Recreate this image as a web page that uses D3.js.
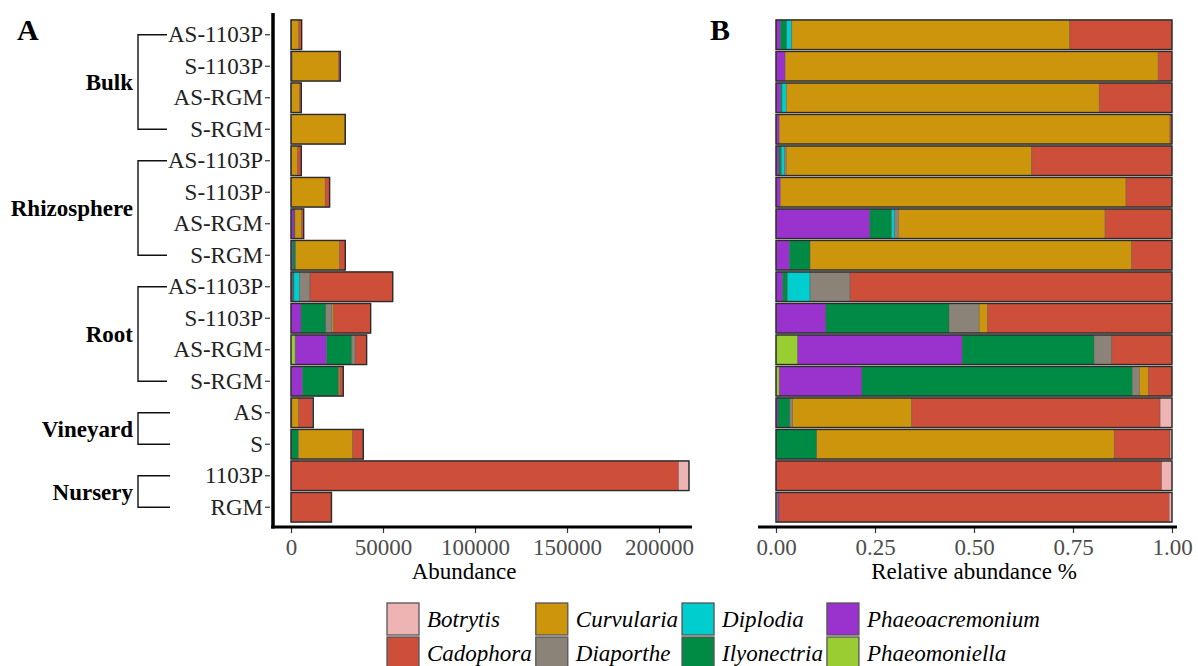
<!DOCTYPE html>
<meta charset="utf-8">
<style>
body { margin: 0; background: #fff; }
text { font-family: "Liberation Serif", "Times New Roman", serif; }
</style>
<body></body>
<script src="https://cdn.jsdelivr.net/npm/d3@7"></script>
<script>

// samples, top to bottom
var samples = ["AS-1103P", "S-1103P", "AS-RGM", "S-RGM",
               "AS-1103P", "S-1103P", "AS-RGM", "S-RGM",
               "AS-1103P", "S-1103P", "AS-RGM", "S-RGM",
               "AS", "S",
               "1103P", "RGM"];
var sampleGroup = ["Bulk", "Bulk", "Bulk", "Bulk",
                   "Rhizosphere", "Rhizosphere", "Rhizosphere", "Rhizosphere",
                   "Root", "Root", "Root", "Root",
                   "Vineyard", "Vineyard",
                   "Nursery", "Nursery"];

var genera = ["Botrytis", "Cadophora", "Curvularia", "Diaporthe",
              "Diplodia", "Ilyonectria", "Phaeoacremonium", "Phaeomoniella"];
var colors = ["#EEB4B4", "#CD4F39", "#CD950C", "#8B8378",
              "#00CDCD", "#008B45", "#9A32CD", "#9ACD32"];

// abundance per genus, one value per sample (same order as samples)
var botrytis        = [0, 0, 0, 0, 0, 0, 0, 0, 0, 0, 0, 0, 363, 197, 5624, 154];
var cadophora       = [1496, 938, 1030, 148, 1982, 2436, 1166, 3009, 44959, 20178, 6247, 1704, 7587, 5541, 210244, 21670];
var curvularia      = [4072, 25246, 4424, 29117, 3472, 18333, 3602, 23954, 0, 909, 0, 625, 3642, 29514, 0, 0];
var diaporthe       = [0, 0, 0, 0, 22, 0, 62, 0, 5585, 3291, 1850, 511, 85, 0, 0, 0];
var diplodia        = [75, 0, 62, 0, 45, 0, 55, 0, 3152, 0, 0, 0, 0, 0, 0, 0];
var ilyonectria     = [93, 0, 22, 0, 36, 0, 380, 1534, 664, 13466, 13686, 19397, 363, 4048, 0, 0];
var phaeoacremonium = [64, 616, 62, 236, 42, 231, 1635, 1003, 940, 5456, 17057, 5936, 61, 0, 433, 88];
var phaeomoniella   = [0, 0, 0, 0, 0, 0, 0, 0, 0, 0, 2261, 227, 0, 0, 0, 88];

var xTicksA = [0, 50000, 100000, 150000, 200000];
var xTicksB = [0, 0.25, 0.5, 0.75, 1];

var series = [botrytis, cadophora, curvularia, diaporthe, diplodia, ilyonectria, phaeoacremonium, phaeomoniella];

var rows = samples.map(function(s, i) {
  var r = {idx: i};
  genera.forEach(function(g, k) { r[g] = series[k][i]; });
  return r;
});

var color = d3.scaleOrdinal().domain(genera).range(colors);
// stacked from the left in reverse alphabetical order
var stackKeys = genera.slice().reverse();

var absStack = d3.stack().keys(stackKeys)(rows);
var relStack = d3.stack().keys(stackKeys).offset(d3.stackOffsetExpand)(rows);
var totals = rows.map(function(r) { return d3.sum(genera, function(g) { return r[g]; }); });

var W = 1198, H = 666, fs = 23;
var svg = d3.select("body").append("svg")
    .attr("width", W)
    .attr("height", H);

var y = d3.scaleBand()
    .domain(d3.range(samples.length))
    .range([19, 523])
    .paddingInner(0.06)
    .paddingOuter(0.03);

var xA = d3.scaleLinear().domain([0, 200000]).range([291, 659]);
var xB = d3.scaleLinear().domain([0, 1]).range([776, 1172]);

function drawBars(stack, x, cls) {
  var g = svg.append("g").attr("class", cls);
  g.selectAll("g.layer")
      .data(stack)
    .enter().append("g")
      .attr("class", "layer")
      .attr("fill", function(d) { return color(d.key); })
    .selectAll("rect")
      .data(function(d) { return d; })
    .enter().append("rect")
      .attr("x", function(d) { return x(d[0]); })
      .attr("width", function(d) { return Math.max(0, x(d[1]) - x(d[0])); })
      .attr("y", function(d) { return y(d.data.idx); })
      .attr("height", y.bandwidth())
      .attr("stroke", "#555")
      .attr("stroke-width", 0.4);
  return g;
}

// panel A
var gA = drawBars(absStack, xA, "panelA");
gA.selectAll("rect.outline")
    .data(rows)
  .enter().append("rect")
    .attr("class", "outline")
    .attr("x", xA(0))
    .attr("width", function(d, i) { return xA(totals[i]) - xA(0); })
    .attr("y", function(d) { return y(d.idx); })
    .attr("height", y.bandwidth())
    .attr("fill", "none")
    .attr("stroke", "#2b2b2b")
    .attr("stroke-width", 1.4);

// panel B
var gB = drawBars(relStack, xB, "panelB");
gB.selectAll("rect.outline")
    .data(rows)
  .enter().append("rect")
    .attr("class", "outline")
    .attr("x", xB(0))
    .attr("width", xB(1) - xB(0))
    .attr("y", function(d) { return y(d.idx); })
    .attr("height", y.bandwidth())
    .attr("fill", "none")
    .attr("stroke", "#2b2b2b")
    .attr("stroke-width", 1.4);

// axes
var yAxis = svg.append("g")
    .attr("transform", "translate(270,0)")
    .call(d3.axisLeft(y)
      .tickFormat(function(i) { return samples[i]; })
      .tickSize(5)
      .tickPadding(2));
yAxis.select(".domain").remove();
yAxis.selectAll("line").attr("stroke", "#333").attr("stroke-width", 1.2);
yAxis.selectAll("text")
    .attr("font-family", "Liberation Serif")
    .attr("font-size", fs)
    .attr("fill", "#222");

function bottomAxis(x, ticks, fmt) {
  var g = svg.append("g")
      .attr("transform", "translate(0,528)")
      .call(d3.axisBottom(x)
        .tickValues(ticks)
        .tickFormat(fmt)
        .tickSize(5)
        .tickSizeOuter(0)
        .tickPadding(6));
  g.select(".domain").remove();
  g.selectAll("line").attr("stroke", "#333").attr("stroke-width", 1.2);
  g.selectAll("text")
      .attr("font-family", "Liberation Serif")
      .attr("font-size", fs)
      .attr("fill", "#4d4d4d");
  return g;
}
bottomAxis(xA, xTicksA, d3.format("d"));
bottomAxis(xB, xTicksB, d3.format(".2f"));

// thick axis lines
svg.append("line")
    .attr("x1", 273).attr("x2", 273).attr("y1", 13).attr("y2", 528.5)
    .attr("stroke", "#000").attr("stroke-width", 3.5);
svg.append("line")
    .attr("x1", 271).attr("x2", 692).attr("y1", 527).attr("y2", 527)
    .attr("stroke", "#000").attr("stroke-width", 3);
svg.append("line")
    .attr("x1", 758).attr("x2", 1177).attr("y1", 527).attr("y2", 527)
    .attr("stroke", "#000").attr("stroke-width", 3);

// axis titles
svg.append("text")
    .attr("x", 464).attr("y", 579)
    .attr("text-anchor", "middle")
    .attr("font-size", fs)
    .text("Abundance");
svg.append("text")
    .attr("x", xB(0.5)).attr("y", 579)
    .attr("text-anchor", "middle")
    .attr("font-size", fs)
    .text("Relative abundance %");

// panel letters
svg.append("text")
    .attr("x", 17).attr("y", 40)
    .attr("font-size", 30).attr("font-weight", "bold")
    .text("A");
svg.append("text")
    .attr("x", 710).attr("y", 40)
    .attr("font-size", 30).attr("font-weight", "bold")
    .text("B");

// group brackets
var groupNames = Array.from(new Set(sampleGroup));
groupNames.forEach(function(name) {
  var idx = d3.range(samples.length).filter(function(i) { return sampleGroup[i] === name; });
  var y0 = y(idx[0]) + y.bandwidth() / 2;
  var y1 = y(idx[idx.length - 1]) + y.bandwidth() / 2;
  var bx = 138, hx = idx.length > 2 ? 167 : 170;
  var path = d3.path();
  path.moveTo(hx, y0);
  path.lineTo(bx, y0);
  path.lineTo(bx, y1);
  path.lineTo(hx, y1);
  svg.append("path")
      .attr("d", path.toString())
      .attr("fill", "none")
      .attr("stroke", "#111")
      .attr("stroke-width", 1.4);
  svg.append("text")
      .attr("x", 133)
      .attr("y", (y0 + y1) / 2)
      .attr("dy", "0.35em")
      .attr("text-anchor", "end")
      .attr("font-size", fs)
      .attr("font-weight", "bold")
      .text(name);
});

// legend, two rows, filled column by column
var legend = svg.append("g");
var keySize = 32, rowStep = 34, legendX = 387, legendY = 603;
var colX = legendX;
for (var c = 0; c < genera.length / 2; c++) {
  var maxW = 0;
  for (var r = 0; r < 2; r++) {
    var g = genera[c * 2 + r];
    legend.append("rect")
        .attr("x", colX).attr("y", legendY + r * rowStep)
        .attr("width", keySize).attr("height", keySize)
        .attr("fill", color(g))
        .attr("stroke", "#555").attr("stroke-width", 1.3);
    var t = legend.append("text")
        .attr("x", colX + keySize + 8)
        .attr("y", legendY + r * rowStep + keySize / 2)
        .attr("dy", "0.35em")
        .attr("font-size", fs)
        .attr("font-style", "italic")
        .text(g);
    maxW = Math.max(maxW, t.node().getComputedTextLength());
  }
  colX += keySize + 8 + maxW + 4;
}
</script>
